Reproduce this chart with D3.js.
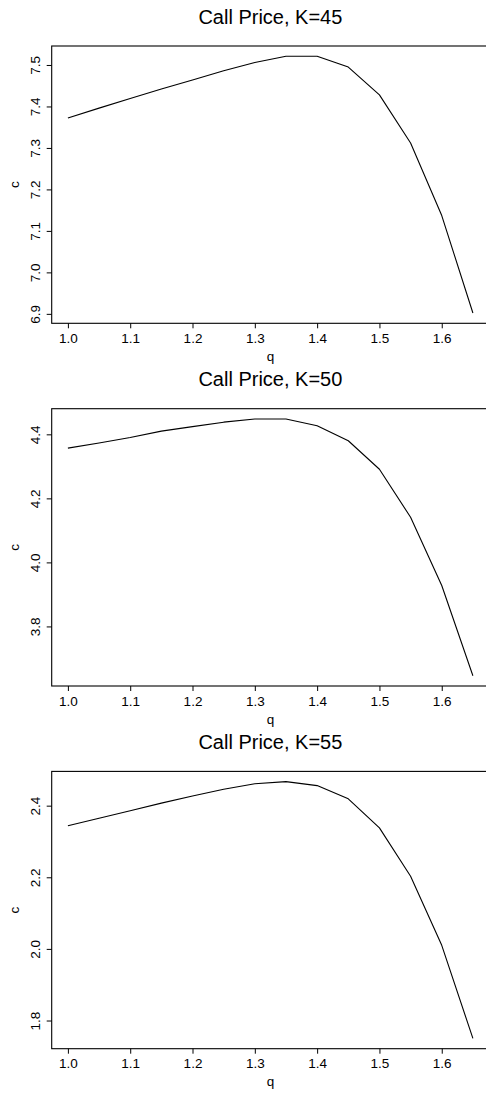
<!DOCTYPE html>
<html>
<head>
<meta charset="utf-8">
<script src="https://cdn.jsdelivr.net/npm/d3@7"></script>
<style>
  html, body { margin: 0; padding: 0; background: #fff; }
  svg { display: block; }
  text { font-family: "Liberation Sans", Arial, Helvetica, sans-serif; fill: #000; }
</style>
</head>
<body>
<script>
// ---- data ----
const q = [1.00, 1.05, 1.10, 1.15, 1.20, 1.25, 1.30, 1.35, 1.40, 1.45, 1.50, 1.55, 1.60, 1.65];
const callK45 = [7.372, 7.396, 7.419, 7.442, 7.464, 7.486, 7.506, 7.521, 7.521, 7.495, 7.428, 7.312, 7.137, 6.902];
const callK50 = [4.357, 4.373, 4.390, 4.410, 4.424, 4.438, 4.448, 4.448, 4.427, 4.380, 4.291, 4.141, 3.928, 3.646];
const callK55 = [2.344, 2.365, 2.386, 2.407, 2.427, 2.446, 2.461, 2.467, 2.456, 2.419, 2.338, 2.203, 2.010, 1.750];
const titles = ["Call Price, K=45", "Call Price, K=50", "Call Price, K=55"];
const xTicks = [1.0, 1.1, 1.2, 1.3, 1.4, 1.5, 1.6];
const yTicks45 = [6.9, 7.0, 7.1, 7.2, 7.3, 7.4, 7.5];
const yTicks50 = [3.8, 4.0, 4.2, 4.4];
const yTicks55 = [1.8, 2.0, 2.2, 2.4];
const xLabel = "q";
const yLabel = "c";

const panels = [
  { title: titles[0], values: callK45, yTicks: yTicks45 },
  { title: titles[1], values: callK50, yTicks: yTicks50 },
  { title: titles[2], values: callK55, yTicks: yTicks55 }
];

// ---- layout ----
const W = 486, H = 1093;
const boxLeft = 51.7, boxRight = 489.1;
const boxTop0 = 46, panelStep = 362.7, boxH = 277.3;
const tickLen = 5;

const svg = d3.select("body").append("svg")
  .attr("width", W).attr("height", H);

function pad(ext) {
  const d = (ext[1] - ext[0]) * 0.04;
  return [ext[0] - d, ext[1] + d];
}

const x = d3.scaleLinear().domain(pad(d3.extent(q))).range([boxLeft, boxRight]);

panels.forEach((p, i) => {
  const top = boxTop0 + i * panelStep;
  const bottom = top + boxH;
  const y = d3.scaleLinear().domain(pad(d3.extent(p.values))).range([bottom, top]);
  const g = svg.append("g");

  // line
  const line = d3.line().x((d, j) => x(q[j])).y(d => y(d));
  g.append("path").datum(p.values)
    .attr("d", line)
    .attr("fill", "none")
    .attr("stroke", "#000")
    .attr("stroke-width", 1.1)
    .attr("stroke-linejoin", "round");

  // box
  g.append("rect")
    .attr("x", boxLeft).attr("y", top)
    .attr("width", boxRight - boxLeft).attr("height", bottom - top)
    .attr("fill", "none").attr("stroke", "#000").attr("stroke-width", 1.1);

  // x axis
  const xAxis = d3.axisBottom(x).tickValues(xTicks).tickSize(tickLen).tickSizeOuter(0)
    .tickFormat(d3.format(".1f"));
  const gx = g.append("g").attr("transform", `translate(0,${bottom})`).call(xAxis);
  gx.select(".domain").remove();
  gx.selectAll(".tick line").attr("stroke", "#000");
  gx.selectAll(".tick text")
    .attr("y", 19.5).attr("dy", null)
    .style("font-family", '"Liberation Sans", Arial, sans-serif')
    .style("font-size", "13.5px").attr("fill", "#000");

  // y axis
  const yAxis = d3.axisLeft(y).tickValues(p.yTicks).tickSize(tickLen).tickSizeOuter(0)
    .tickFormat(d3.format(".1f"));
  const gy = g.append("g").attr("transform", `translate(${boxLeft},0)`).call(yAxis);
  gy.select(".domain").remove();
  gy.selectAll(".tick line").attr("stroke", "#000");
  gy.selectAll(".tick text")
    .attr("x", null).attr("dy", null)
    .attr("text-anchor", "middle")
    .attr("transform", `translate(${40 - boxLeft},0) rotate(-90)`)
    .style("font-family", '"Liberation Sans", Arial, sans-serif')
    .style("font-size", "13.5px").attr("fill", "#000");

  // title
  g.append("text")
    .attr("x", (boxLeft + boxRight) / 2).attr("y", top - 22.5)
    .attr("text-anchor", "middle")
    .style("font-size", "20px")
    .text(p.title);

  // axis labels
  g.append("text")
    .attr("x", (boxLeft + boxRight) / 2).attr("y", bottom + 37.5)
    .attr("text-anchor", "middle")
    .style("font-size", "13.5px")
    .text(xLabel);

  g.append("text")
    .attr("transform", `translate(19,${(top + bottom) / 2}) rotate(-90)`)
    .attr("text-anchor", "middle")
    .style("font-size", "13.5px")
    .text(yLabel);
});
</script>
</body>
</html>
